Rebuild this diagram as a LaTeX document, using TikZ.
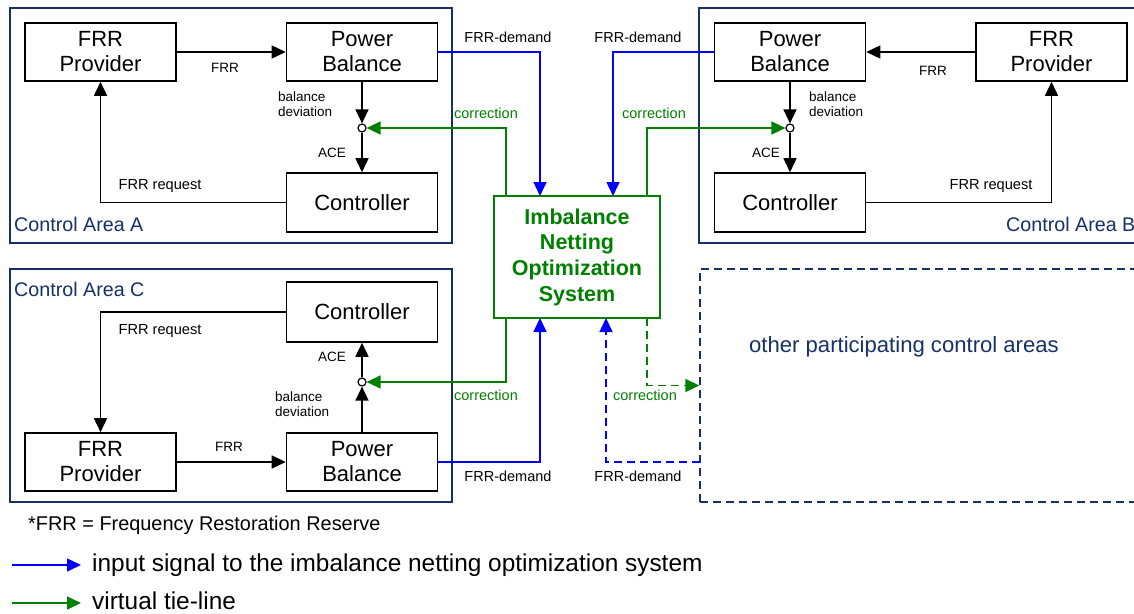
\documentclass[tikz,border=0pt]{standalone}
\usepackage{fontspec}
\setmainfont{Liberation Sans}
\usetikzlibrary{arrows.meta}
\definecolor{navy}{RGB}{22,48,104}
\definecolor{netgreen}{RGB}{0,128,0}
\definecolor{netblue}{RGB}{0,0,255}

\begin{document}
\begin{tikzpicture}[x=1pt,y=-1pt,
  >={Triangle[length=14pt,width=13pt]},
  block/.style={draw, line width=1.6pt, minimum width=151pt, minimum height=58pt,
    inner sep=0pt, align=center, font=\fontsize{22}{25}\selectfont},
  area/.style={draw=navy, line width=1.4pt},
  otherarea/.style={draw=navy, line width=1.4pt, dash pattern=on 8pt off 5pt,
    minimum width=460pt, minimum height=233pt, inner sep=0pt},
  areaname/.style={text=navy, font=\fontsize{19.7}{22}\selectfont, anchor=west, inner sep=0pt},
  sig/.style={line width=1.6pt, ->},
  blueline/.style={draw=netblue, line width=1.5pt, ->},
  greenline/.style={draw=netgreen, line width=1.5pt, ->},
  junction/.style={circle, draw, fill=white, line width=1.2pt, minimum size=8pt, inner sep=0pt},
  lbl/.style={font=\fontsize{13.5}{15}\selectfont, inner sep=0pt, align=left},
  req/.style={font=\fontsize{14.6}{16}\selectfont, inner sep=0pt},
  demand/.style={font=\fontsize{14.5}{16}\selectfont, inner sep=0pt},
  corr/.style={font=\fontsize{14.5}{16}\selectfont, inner sep=0pt, text=netgreen},
  system/.style={draw=netgreen, line width=1.6pt, minimum width=166pt, minimum height=122pt,
    inner sep=0pt, align=center, text=netgreen, font=\fontsize{21.5}{25.7}\selectfont\bfseries},
  legendtext/.style={anchor=west, inner sep=0pt, font=\fontsize{24.4}{27}\selectfont}
]
\clip (0,0) rectangle (1134,613);

% ---------- control area frames ----------
\draw[area] (10,8) rectangle (452,243);
\draw[area] (699,8) rectangle (1160,243);
\draw[area] (10,269) rectangle (452,502);
\node[otherarea] (other) at (930,385.5) {};

\node[areaname] (nameA) at (14,224) {Control Area A};
\node[areaname] (nameB) at (1006,224) {Control Area B};
\node[areaname] (nameC) at (14,289) {Control Area C};
\node[text=navy, font=\fontsize{22.1}{24}\selectfont, anchor=west, inner sep=0pt] (otherName)
  at (749,347) {other participating control areas};

% ---------- Control Area A ----------
\node[block] (frrA) at (100.5,52) {FRR\\Provider};
\node[block] (pbA) at (362,52) {Power\\Balance};
\node[block, minimum height=59pt] (ctA) at (362,202.5) {Controller};
\node[junction] (jA) at (362,128) {};

\draw[sig] (frrA.east) -- (pbA.west);
\draw[sig] (pbA) -- (jA);
\draw[sig] (jA) -- (ctA);
\draw[sig] (ctA.west) -| (frrA);

\node[lbl] (lFrrA) at (225,68) {FRR};
\node[lbl, anchor=west] (lDevA) at (278,104.5) {balance\\deviation};
\node[lbl] (lAceA) at (332,153) {ACE};
\node[req] (lReqA) at (160,186) {FRR request};

% ---------- Control Area B ----------
\node[block] (pbB) at (790,52) {Power\\Balance};
\node[block] (frrB) at (1051.5,52) {FRR\\Provider};
\node[block, minimum height=59pt] (ctB) at (790,202.5) {Controller};
\node[junction] (jB) at (790,128) {};

\draw[sig] (frrB.west) -- (pbB.east);
\draw[sig] (pbB) -- (jB);
\draw[sig] (jB) -- (ctB);
\draw[sig] (ctB.east) -| (frrB);

\node[lbl] (lFrrB) at (933,71) {FRR};
\node[lbl, anchor=west] (lDevB) at (809,104.5) {balance\\deviation};
\node[lbl] (lAceB) at (766,153) {ACE};
\node[req] (lReqB) at (991,186) {FRR request};

% ---------- Control Area C ----------
\node[block, minimum height=60pt] (ctC) at (362,312) {Controller};
\node[block] (frrC) at (100.5,462) {FRR\\Provider};
\node[block] (pbC) at (362,462) {Power\\Balance};
\node[junction] (jC) at (362,382) {};

\draw[sig] (frrC.east) -- (pbC.west);
\draw[sig] (pbC) -- (jC);
\draw[sig] (jC) -- (ctC);
\draw[sig] (ctC.west) -| (frrC);

\node[lbl] (lFrrC) at (229,447) {FRR};
\node[lbl, anchor=west] (lDevC) at (275,404) {balance\\deviation};
\node[lbl] (lAceC) at (332,357) {ACE};
\node[req] (lReqC) at (160,331) {FRR request};

% ---------- netting system ----------
\node[system] (sys) at (577,257) {Imbalance\\Netting\\Optimization\\System};

\coordinate (sysInA)  at (540,196);
\coordinate (sysInB)  at (613,196);
\coordinate (sysOutA) at (506,196);
\coordinate (sysOutB) at (647,196);
\coordinate (sysInC)  at (540,318);
\coordinate (sysInD)  at (606,318);
\coordinate (sysOutC) at (506,318);
\coordinate (sysOutD) at (647,318);
\coordinate (otherOut) at (700,462);

% FRR demand inputs
\draw[blueline] (pbA.east) -| (sysInA);
\draw[blueline] (pbB.west) -| (sysInB);
\draw[blueline] (pbC.east) -| (sysInC);
\draw[blueline, dash pattern=on 8pt off 5pt] (otherOut) -| (sysInD);

% corrections (virtual tie-lines)
\draw[greenline] (sysOutA) |- (jA);
\draw[greenline] (sysOutB) |- (jB);
\draw[greenline] (sysOutC) |- (jC);
\draw[greenline, dash pattern=on 8pt off 5pt] (sysOutD) |- (other);

\node[demand] (dA) at (508,37) {FRR-demand};
\node[demand] (dB) at (638,37) {FRR-demand};
\node[demand] (dC) at (508,476) {FRR-demand};
\node[demand] (dD) at (638,476) {FRR-demand};

\node[corr] (cA) at (486,113) {correction};
\node[corr] (cB) at (654,113) {correction};
\node[corr] (cC) at (486,395) {correction};
\node[corr] (cD) at (645,395) {correction};

% ---------- legend ----------
\node[anchor=west, inner sep=0pt, font=\fontsize{19.9}{22}\selectfont] (abbr) at (28,525)
  {*FRR = Frequency Restoration Reserve};
\coordinate (lb0) at (12,565);
\coordinate (lb1) at (81,565);
\coordinate (lg0) at (12,603);
\coordinate (lg1) at (81,603);
\draw[blueline] (lb0) -- (lb1);
\draw[greenline] (lg0) -- (lg1);
\node[legendtext] (legB) at (92,565) {input signal to the imbalance netting optimization system};
\node[legendtext] (legG) at (92,601) {virtual tie-line};
\end{tikzpicture}
\end{document}
